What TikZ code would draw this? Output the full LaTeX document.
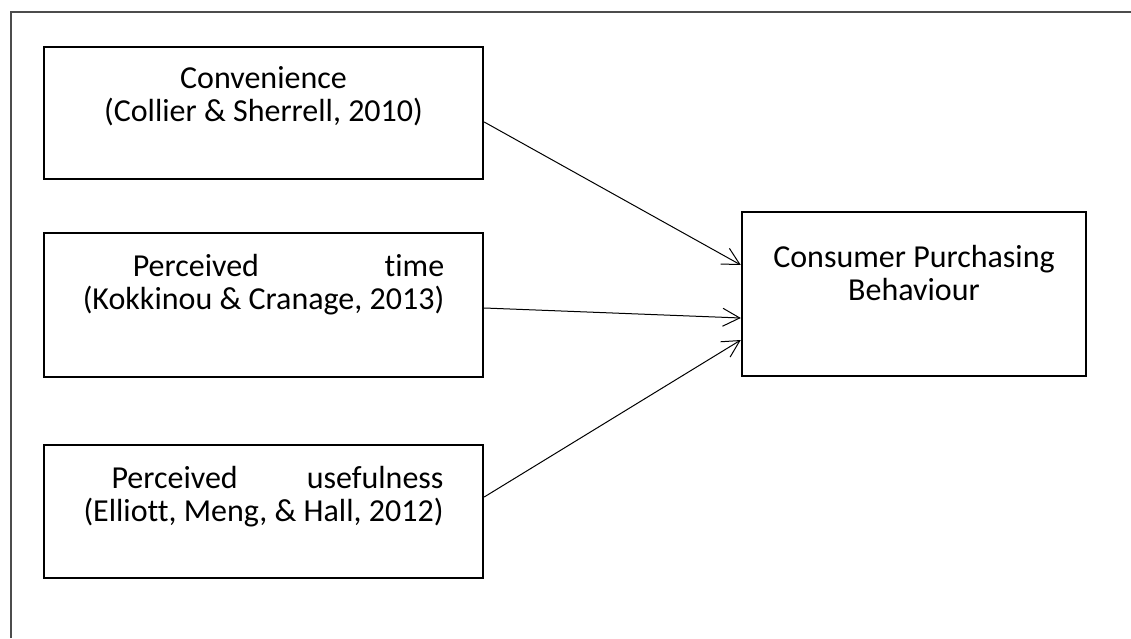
\documentclass[tikz,border=0pt]{standalone}
\usepackage{fontspec}
\setmainfont{Carlito}[RawFeature=-liga]
\usepackage{calc}
\usetikzlibrary{arrows.meta,calc}

\tikzset{
  factor/.style={draw, line width=2.4pt, minimum width=439pt, inner sep=0pt},
  factortext/.style={align=center, font=\fontsize{32}{33}\selectfont},
  link/.style={line width=1pt, -{Straight Barb[length=17pt,width=18pt,line width=1pt]}}
}

\begin{document}
\begin{tikzpicture}[x=1pt,y=1pt]
    \useasboundingbox (0,0) rectangle (1131,638);
    % --- Frame ---
    \draw[line width=1.5pt, black!70] (11,0) -- (11,626) -- (1131,626);
    % --- Factors ---
    \node[factor, minimum height=132pt] (conv) at (263.5,525) {};
    \node[factor, minimum height=144pt] (ptime) at (263.5,333) {};
    \node[factor, minimum height=133pt] (puse) at (263.5,126.5) {};
    \node[factor, minimum width=344pt, minimum height=164pt] (cpb) at (914,344) {};
    % --- Labels ---
    \node[factortext] (convtxt) at ($(conv.north)+(0,-50)$)
        {Convenience\\(Collier \& Sherrell, 2010)};
    \node[factortext] (ptimetxt) at ($(ptime.north)+(0,-53)$)
        {\makebox[\widthof{(Kokkinou \& Cranage, 2013)}][s]{\hspace{50pt}Perceived\hfill time}\\
         (Kokkinou \& Cranage, 2013)};
    \node[factortext] (pusetxt) at ($(puse.north)+(0,-53)$)
        {\makebox[\widthof{(Elliott, Meng, \& Hall, 2012)}][s]{\hspace{28pt}Perceived\hfill usefulness}\\
         (Elliott, Meng, \& Hall, 2012)};
    \node[factortext] (cpbtxt) at ($(cpb.north)+(0,-62)$)
        {Consumer Purchasing\\Behaviour};
    % --- Links ---
    \draw[link] ($(conv.east)+(0,-9)$) -- ($(cpb.west)+(0,29)$);
    \draw[link] ($(ptime.east)+(0,-3)$) -- ($(cpb.west)+(0,-24)$);
    \draw[link] ($(puse.east)+(0,14.5)$) -- ($(cpb.west)+(0,-46)$);
\end{tikzpicture}
\end{document}
